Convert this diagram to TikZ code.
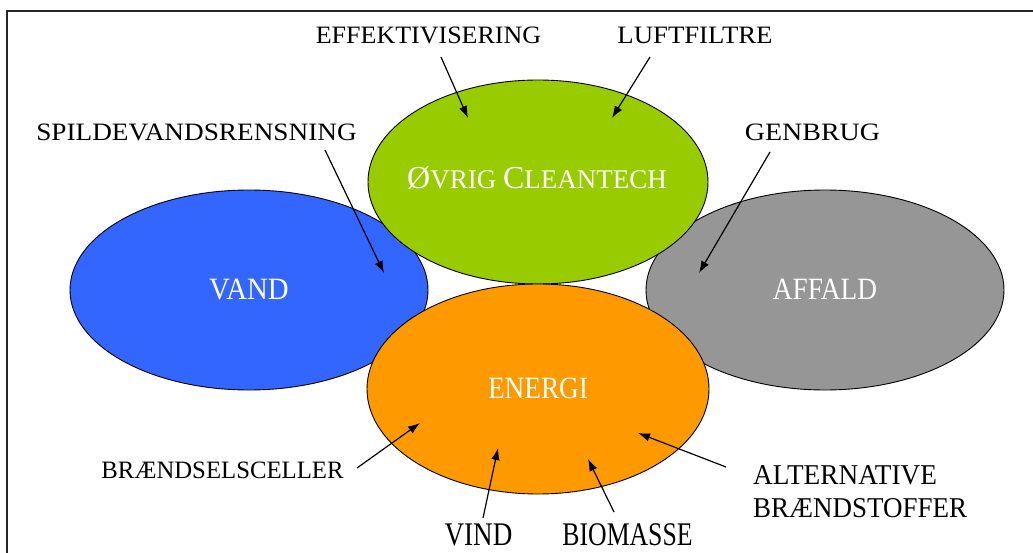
\documentclass[tikz,border=0pt]{standalone}
\usepackage{fontspec}
\usepackage{graphicx}
\setmainfont{Liberation Serif}
\usetikzlibrary{arrows.meta}
\definecolor{vandblue}{HTML}{3366FF}
\definecolor{cleangreen}{HTML}{99CC00}
\definecolor{energiorange}{HTML}{FF9900}
\definecolor{affaldgray}{HTML}{969696}
% \lbl{horizontal scale}{font size}{text}
\newcommand{\lbl}[3]{\scalebox{#1}[1]{\fontsize{#2}{#2}\selectfont #3}}
\tikzset{
  area/.style={draw=black, line width=0.9pt},
  tag/.style={inner sep=0pt, anchor=base, text=black},
  tagleft/.style={tag, anchor=base west},
  areatext/.style={inner sep=0pt, anchor=base, text=white},
  pointer/.style={line width=1.2pt, -{Latex[length=12pt,width=8.5pt]}},
}
\begin{document}
\begin{tikzpicture}[x=1pt, y=-1pt]
\useasboundingbox (0,0) rectangle (1033,553);
% frame
\draw[line width=2pt, black!85] (7,553) -- (7,11) -- (1033,11);
% the four areas
\draw[area, fill=vandblue] (249,290) ellipse [x radius=179, y radius=100];
\draw[area, fill=affaldgray] (825,290) ellipse [x radius=179, y radius=100];
\draw[area, fill=cleangreen] (538,182) ellipse [x radius=170, y radius=102];
\draw[area, fill=energiorange] (538,389) ellipse [x radius=171, y radius=105];
% area names
\node[areatext] (vand) at (249,299) {\lbl{0.93}{31}{VAND}};
\node[areatext] (affald) at (825,299) {\lbl{0.88}{31}{AFFALD}};
\node[areatext] (ovrig) at (537,189) {{\fontsize{32}{34}\selectfont Ø}{\fontsize{27}{30}\selectfont VRIG }{\fontsize{32}{34}\selectfont C}{\fontsize{27}{30}\selectfont LEANTECH}};
\node[areatext] (energi) at (538,398) {\lbl{0.88}{31}{ENERGI}};
% labels
\node[tag] (eff) at (428.5,43.5) {\lbl{1.04}{25}{EFFEKTIVISERING}};
\node[tag] (luft) at (695,44) {\lbl{1.07}{25}{LUFTFILTRE}};
\node[tag] (spild) at (196.5,140.5) {\lbl{1.09}{25}{SPILDEVANDSRENSNING}};
\node[tag] (genbrug) at (812.5,140.5) {\lbl{1.12}{25}{GENBRUG}};
\node[tag] (braend) at (222.5,478.5) {\lbl{0.99}{25}{BRÆNDSELSCELLER}};
\node[tag] (vind) at (478.5,545) {\lbl{0.82}{33}{VIND}};
\node[tag] (bio) at (627.5,545) {\lbl{0.78}{33}{BIOMASSE}};
\node[tagleft] (alt1) at (753,484) {\lbl{0.95}{28.7}{ALTERNATIVE}};
\node[tagleft] (alt2) at (753,517) {\lbl{0.94}{28.7}{BRÆNDSTOFFER}};
% pointer ends
\coordinate (effS) at (441,57);   \coordinate (effT) at (468,118);
\coordinate (luftS) at (650,57);  \coordinate (luftT) at (612,118);
\coordinate (spildS) at (325,150); \coordinate (spildT) at (384,273);
\coordinate (genS) at (770,152);  \coordinate (genT) at (699,273);
\coordinate (braS) at (357,468);  \coordinate (braT) at (420,423);
\coordinate (vindS) at (483,518); \coordinate (vindT) at (498,448);
\coordinate (bioS) at (614,512);  \coordinate (bioT) at (588,459);
\coordinate (altS) at (726,467);  \coordinate (altT) at (638,433);
\draw[pointer] (effS) -- (effT);
\draw[pointer] (luftS) -- (luftT);
\draw[pointer] (spildS) -- (spildT);
\draw[pointer] (genS) -- (genT);
\draw[pointer] (braS) -- (braT);
\draw[pointer] (vindS) -- (vindT);
\draw[pointer] (bioS) -- (bioT);
\draw[pointer] (altS) -- (altT);
\end{tikzpicture}
\end{document}
